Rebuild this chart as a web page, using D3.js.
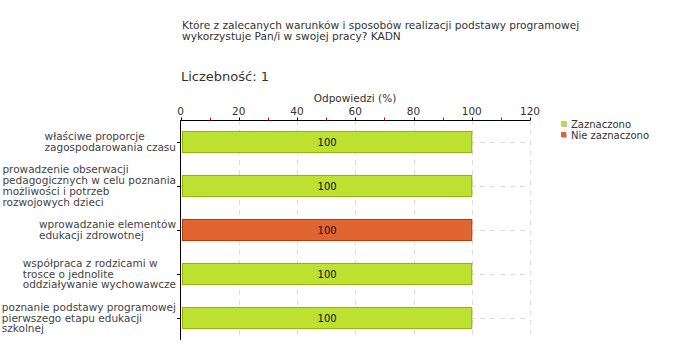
<!DOCTYPE html>
<html><head><meta charset="utf-8">
<script src="https://cdn.jsdelivr.net/npm/d3@7"></script>
<style>body{margin:0;background:#fff}text{font-family:"DejaVu Sans",Verdana,sans-serif}</style>
</head><body>
<svg id="c" width="680" height="360"></svg>
<script>
const categories = [
  ["właściwe proporcje","zagospodarowania czasu"],
  ["prowadzenie obserwacji","pedagogicznych w celu poznania","możliwości i potrzeb","rozwojowych dzieci"],
  ["wprowadzanie elementów","edukacji zdrowotnej"],
  ["współpraca z rodzicami w","trosce o jednolite","oddziaływanie wychowawcze"],
  ["poznanie podstawy programowej","pierwszego etapu edukacji","szkolnej"]
];
const values = [100,100,100,100,100];
const series = ["Zaznaczono","Zaznaczono","Nie zaznaczono","Zaznaczono","Zaznaczono"];
const legendLabels = ["Zaznaczono","Nie zaznaczono"];
const majorTicks = [0,20,40,60,80,100,120];
const minorTicks = [10,30,50,70,90,110];
const titleLines = ["Które z zalecanych warunków i sposobów realizacji podstawy programowej","wykorzystuje Pan/i w swojej pracy? KADN"];
const countLabel = "Liczebność: 1";
const axisTitle = "Odpowiedzi (%)";

const fills = {"Zaznaczono":"#bde031","Nie zaznaczono":"#e06530"};
const strokes = {"Zaznaczono":"#8fb300","Nie zaznaczono":"#b03a00"};

const svg = d3.select("#c");
const x = d3.scaleLinear().domain([0,120]).range([180.5,530]);
const y = d3.scaleBand().domain(d3.range(categories.length)).range([120,340]).paddingInner(0.52).paddingOuter(0.26);

// title
svg.append("g").selectAll("text").data(titleLines).join("text")
  .attr("x",182).attr("y",(d,i)=>29+i*11).attr("font-size",10.6).attr("fill","#333").text(d=>d);
svg.append("text").attr("x",181).attr("y",81).attr("font-size",13).attr("fill","#333").text(countLabel);
svg.append("text").attr("x",355).attr("y",101.5).attr("text-anchor","middle").attr("font-size",10.5).attr("fill","#333").text(axisTitle);

// gridlines
const grid = svg.append("g").attr("stroke","#ddd").attr("stroke-dasharray","5,5");
grid.selectAll("line.v").data(majorTicks.slice(1)).join("line").attr("class","v")
  .attr("x1",d=>Math.round(x(d))+0.5).attr("x2",d=>Math.round(x(d))+0.5).attr("y1",120).attr("y2",340);
grid.selectAll("line.h").data(d3.range(categories.length)).join("line").attr("class","h")
  .attr("x1",180).attr("x2",530).attr("y1",i=>Math.round(y(i)+y.bandwidth()/2)+0.5).attr("y2",i=>Math.round(y(i)+y.bandwidth()/2)+0.5);

// bars
svg.append("g").selectAll("rect").data(values).join("rect")
  .attr("x",x(0)+2).attr("y",(d,i)=>y(i))
  .attr("width",d=>x(d)-x(0)-2).attr("height",y.bandwidth())
  .attr("fill",(d,i)=>fills[series[i]]).attr("stroke",(d,i)=>strokes[series[i]]).attr("stroke-width",1);
svg.append("g").selectAll("text").data(values).join("text")
  .attr("x",d=>(x(0)+x(d))/2+1).attr("y",(d,i)=>y(i)+y.bandwidth()/2+4)
  .attr("text-anchor","middle").attr("font-size",10).attr("fill","#111").text(d=>d);

// top axis
const ax = svg.append("g").attr("transform","translate(0,120.5)");
ax.append("line").attr("x1",x(0)).attr("x2",x(120)).attr("stroke","#000");
ax.selectAll("line.mj").data(majorTicks).join("line").attr("class","mj")
  .attr("x1",d=>Math.round(x(d))+0.5).attr("x2",d=>Math.round(x(d))+0.5).attr("y1",-3).attr("y2",0).attr("stroke","#000");
ax.selectAll("line.mn").data(minorTicks).join("line").attr("class","mn")
  .attr("x1",d=>Math.round(x(d))+0.5).attr("x2",d=>Math.round(x(d))+0.5).attr("y1",-3).attr("y2",0).attr("stroke","#e00000");
ax.selectAll("text").data(majorTicks).join("text")
  .attr("x",d=>x(d)).attr("y",-5.5).attr("text-anchor","middle").attr("font-size",10.5).attr("fill","#333").text(d=>d);

// left axis
const la = svg.append("g");
la.append("line").attr("x1",180.5).attr("x2",180.5).attr("y1",120).attr("y2",340).attr("stroke","#000");
la.selectAll("line.t").data(d3.range(categories.length)).join("line").attr("class","t")
  .attr("x1",177).attr("x2",180).attr("y1",i=>Math.round(y(i)+y.bandwidth()/2)+0.5).attr("y2",i=>Math.round(y(i)+y.bandwidth()/2)+0.5).attr("stroke","#000");

// category labels: left-aligned block, right edge at 176
const lh = 10.7;
categories.forEach((lines,i)=>{
  const cy = y(i)+y.bandwidth()/2;
  const g = svg.append("g");
  const t = g.selectAll("text").data(lines).join("text")
    .attr("y",(d,j)=>cy+(j-(lines.length-1)/2)*lh+3.5)
    .attr("font-size",10.5).attr("fill","#444").text(d=>d);
  let w = 0; t.each(function(){w=Math.max(w,this.getComputedTextLength());});
  t.attr("x",176-w);
});

// legend
const lg = svg.append("g");
legendLabels.forEach((l,i)=>{
  lg.append("rect").attr("x",562).attr("y",121+i*11+1).attr("width",5).attr("height",5).attr("fill","#bbb");
  lg.append("rect").attr("x",561).attr("y",121+i*11).attr("width",5).attr("height",5).attr("fill",fills[l]);
  lg.append("text").attr("x",571).attr("y",127.5+i*11).attr("font-size",10).attr("fill","#333").text(l);
});
</script>
</body></html>
